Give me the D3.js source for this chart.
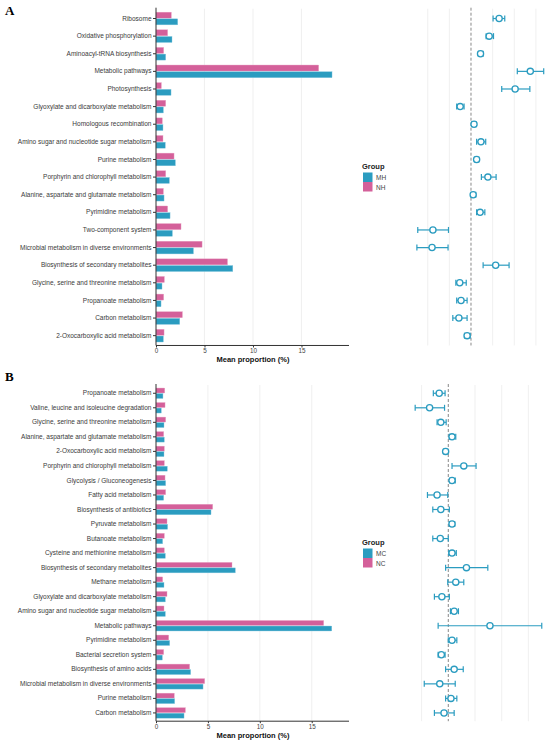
<!DOCTYPE html>
<html>
<head>
<meta charset="utf-8">
<script src="https://cdn.jsdelivr.net/npm/d3@7"></script>
<style>
  body { margin: 0; background: #fff; }
  svg { display: block; font-family: "Liberation Sans", Arial, sans-serif; }
</style>
</head>
<body>
<svg id="chart" width="550" height="744"></svg>
<script>
// ---- panel A data (MH vs NH) ----
const catsA = [
  "Ribosome", "Oxidative phosphorylation", "Aminoacyl-tRNA biosynthesis",
  "Metabolic pathways", "Photosynthesis", "Glyoxylate and dicarboxylate metabolism",
  "Homologous recombination", "Amino sugar and nucleotide sugar metabolism",
  "Purine metabolism", "Porphyrin and chlorophyll metabolism",
  "Alanine, aspartate and glutamate metabolism", "Pyrimidine metabolism",
  "Two-component system", "Microbial metabolism in diverse environments",
  "Biosynthesis of secondary metabolites", "Glycine, serine and threonine metabolism",
  "Propanoate metabolism", "Carbon metabolism", "2-Oxocarboxylic acid metabolism"
];
const nhA = [1.58, 1.2, 0.79, 16.77, 0.55, 1.0, 0.65, 0.72, 1.86, 1.0, 0.76, 1.2, 2.58, 4.75, 7.37, 0.86, 0.79, 2.72, 0.83];
const mhA = [2.24, 1.65, 1.0, 18.15, 1.55, 0.76, 0.72, 0.96, 2.0, 1.38, 0.83, 1.45, 1.69, 3.86, 7.92, 0.62, 0.52, 2.45, 0.76];
const diffA = [0.65, 0.42, 0.22, 1.37, 1.02, -0.25, 0.07, 0.23, 0.13, 0.39, 0.05, 0.21, -0.88, -0.9, 0.57, -0.26, -0.23, -0.28, -0.09];
const lowA = [0.51, 0.35, 0.17, 1.07, 0.71, -0.33, 0.02, 0.13, 0.08, 0.24, 0.0, 0.13, -1.23, -1.25, 0.28, -0.35, -0.33, -0.42, -0.15];
const highA = [0.78, 0.52, 0.28, 1.68, 1.36, -0.16, 0.12, 0.34, 0.18, 0.58, 0.11, 0.32, -0.52, -0.53, 0.88, -0.11, -0.09, -0.09, -0.02];

// ---- panel B data (MC vs NC) ----
const catsB = [
  "Propanoate metabolism", "Valine, leucine and isoleucine degradation",
  "Glycine, serine and threonine metabolism", "Alanine, aspartate and glutamate metabolism",
  "2-Oxocarboxylic acid metabolism", "Porphyrin and chlorophyll metabolism",
  "Glycolysis / Gluconeogenesis", "Fatty acid metabolism", "Biosynthesis of antibiotics",
  "Pyruvate metabolism", "Butanoate metabolism", "Cysteine and methionine metabolism",
  "Biosynthesis of secondary metabolites", "Methane metabolism",
  "Glyoxylate and dicarboxylate metabolism", "Amino sugar and nucleotide sugar metabolism",
  "Metabolic pathways", "Pyrimidine metabolism", "Bacterial secretion system",
  "Biosynthesis of amino acids", "Microbial metabolism in diverse environments",
  "Purine metabolism", "Carbon metabolism"
];
const ncB = [0.84, 0.87, 0.93, 0.74, 0.8, 0.8, 0.87, 0.93, 5.46, 1.06, 0.8, 0.8, 7.32, 0.64, 1.06, 0.77, 16.15, 1.22, 0.74, 3.24, 4.69, 1.76, 2.83];
const mcB = [0.67, 0.51, 0.77, 0.8, 0.77, 1.09, 0.93, 0.74, 5.3, 1.12, 0.64, 0.9, 7.64, 0.77, 0.9, 0.9, 16.93, 1.32, 0.61, 3.34, 4.53, 1.8, 2.7];
const diffB = [-0.17, -0.35, -0.14, 0.07, -0.05, 0.29, 0.07, -0.21, -0.14, 0.07, -0.15, 0.07, 0.34, 0.14, -0.12, 0.11, 0.78, 0.07, -0.13, 0.11, -0.16, 0.05, -0.08];
const lowB = [-0.28, -0.62, -0.21, 0.02, -0.09, 0.07, 0.03, -0.39, -0.29, 0.02, -0.29, 0.01, -0.05, -0.01, -0.26, 0.04, -0.19, 0.0, -0.19, -0.05, -0.45, -0.05, -0.26];
const highB = [-0.06, -0.07, -0.04, 0.14, -0.01, 0.52, 0.13, -0.01, 0.02, 0.12, 0.0, 0.15, 0.74, 0.29, 0.02, 0.19, 1.75, 0.16, -0.06, 0.28, 0.13, 0.16, 0.11];

const xTicks = [0, 5, 10, 15];
const pink = "#d4609a";
const blue = "#2b9cc0";

const svg = d3.select("#chart");

function drawPanel(p) {
  const g = svg.append("g");
  const bottom = p.top + p.cats.length * p.step;

  const y = d3.scaleBand().domain(p.cats).range([p.top, bottom]);
  const half = p.step * 0.36;
  const sub = d3.scaleBand().domain(["top", "bot"]).range([-half, half]).paddingInner(0.1);

  const x = d3.scaleLinear().domain([0, p.barMax]).range([156, 349]);
  const xd = d3.scaleLinear().domain(p.diffDomain).range(p.diffRange);

  // panel letter
  g.append("text").attr("x", 5).attr("y", p.letterY)
    .attr("font-family", "'Liberation Serif', 'Times New Roman', serif")
    .attr("font-weight", "bold").attr("font-size", 13).text(p.letter);

  // grid lines for bars
  g.selectAll(".gridb").data(xTicks.slice(1)).join("line")
    .attr("x1", d => x(d)).attr("x2", d => x(d))
    .attr("y1", p.top - 1).attr("y2", bottom)
    .attr("stroke", "#ececec").attr("stroke-width", 0.8);

  // grid lines for difference panel
  g.selectAll(".gridd").data(p.diffGrid).join("line")
    .attr("x1", d => xd(d)).attr("x2", d => xd(d))
    .attr("y1", p.top - 1).attr("y2", bottom + 1)
    .attr("stroke", "#ececec").attr("stroke-width", 0.8);

  // bars
  p.cats.forEach((c, i) => {
    const cy = y(c) + y.bandwidth() / 2;
    g.append("rect").attr("x", x(0)).attr("y", cy + sub("top"))
      .attr("width", x(p.pinkVals[i]) - x(0)).attr("height", sub.bandwidth())
      .attr("fill", pink).attr("stroke", "#e9a3c4").attr("stroke-width", 0.4);
    g.append("rect").attr("x", x(0)).attr("y", cy + sub("bot"))
      .attr("width", x(p.blueVals[i]) - x(0)).attr("height", sub.bandwidth())
      .attr("fill", blue).attr("stroke", "#8ccbe0").attr("stroke-width", 0.4);
  });

  // y axis
  const yAxis = g.append("g").attr("transform", "translate(156,0)")
    .call(d3.axisLeft(y).tickSize(3).tickPadding(1.5));
  yAxis.select(".domain").attr("d", `M0,${p.top - 2}V${bottom + 1}`).attr("stroke", "#333").attr("stroke-width", 1);
  yAxis.selectAll(".tick line").attr("stroke", "#333");
  yAxis.selectAll(".tick text").attr("font-size", p.labelSize).attr("fill", "#3a3a3a")
    .attr("font-family", "'Liberation Sans', Arial, sans-serif");

  // x axis
  const xAxis = g.append("g").attr("transform", `translate(0,${bottom + 1})`)
    .call(d3.axisBottom(x).tickValues(xTicks).tickSize(2).tickPadding(1));
  xAxis.select(".domain").attr("d", `M156,0H349`).attr("stroke", "#333");
  xAxis.selectAll(".tick line").attr("stroke", "#333");
  xAxis.selectAll(".tick text").attr("font-size", 6.3).attr("fill", "#444")
    .attr("font-family", "'Liberation Sans', Arial, sans-serif");

  g.append("text").attr("x", 253).attr("y", bottom + 18)
    .attr("text-anchor", "middle").attr("font-weight", "bold")
    .attr("font-size", 7.5).attr("fill", "#111").text("Mean proportion (%)");

  // zero reference line
  g.append("line").attr("x1", xd(0)).attr("x2", xd(0))
    .attr("y1", p.top - 2).attr("y2", bottom + 1)
    .attr("stroke", "#888").attr("stroke-width", 1).attr("stroke-dasharray", "3,2");

  // error bars + points
  p.cats.forEach((c, i) => {
    const cy = y(c) + y.bandwidth() / 2;
    const eg = g.append("g").attr("stroke", blue).attr("stroke-width", 1.2);
    eg.append("line").attr("x1", xd(p.low[i])).attr("x2", xd(p.high[i])).attr("y1", cy).attr("y2", cy);
    eg.append("line").attr("x1", xd(p.low[i])).attr("x2", xd(p.low[i])).attr("y1", cy - 3).attr("y2", cy + 3);
    eg.append("line").attr("x1", xd(p.high[i])).attr("x2", xd(p.high[i])).attr("y1", cy - 3).attr("y2", cy + 3);
    eg.append("circle").attr("cx", xd(p.diff[i])).attr("cy", cy).attr("r", 3.1)
      .attr("fill", "#fff").attr("stroke-width", 1.3);
  });

  // legend
  const lg = g.append("g").attr("transform", `translate(363,${p.legendY})`);
  lg.append("text").attr("x", -1).attr("y", 0).attr("font-weight", "bold")
    .attr("font-size", 7.5).attr("fill", "#222").text("Group");
  p.groups.forEach((grp, k) => {
    lg.append("rect").attr("x", 0).attr("y", 3.5 + k * 9.5).attr("width", 9.5).attr("height", 9.5)
      .attr("fill", k === 0 ? blue : pink);
    lg.append("text").attr("x", 13).attr("y", 11 + k * 9.5)
      .attr("font-size", 6.5).attr("fill", "#444").text(grp);
  });
}

drawPanel({
  letter: "A", letterY: 15, cats: catsA, pinkVals: nhA, blueVals: mhA,
  diff: diffA, low: lowA, high: highA, groups: ["MH", "NH"],
  top: 9.7, step: 17.62, barMax: 19.9, labelSize: 6.5,
  diffDomain: [-1.4, 1.8], diffRange: [410.4, 548.9], diffGrid: [-1, -0.5, 0.5, 1, 1.5],
  legendY: 169
});

drawPanel({
  letter: "B", letterY: 381, cats: catsB, pinkVals: ncB, blueVals: mcB,
  diff: diffB, low: lowB, high: highB, groups: ["MC", "NC"],
  top: 386.0, step: 14.53, barMax: 18.59, labelSize: 6.5,
  diffDomain: [-0.7, 1.85], diffRange: [410.9, 547.1], diffGrid: [-0.5, 0.5, 1, 1.5],
  legendY: 545
});
</script>
</body>
</html>
